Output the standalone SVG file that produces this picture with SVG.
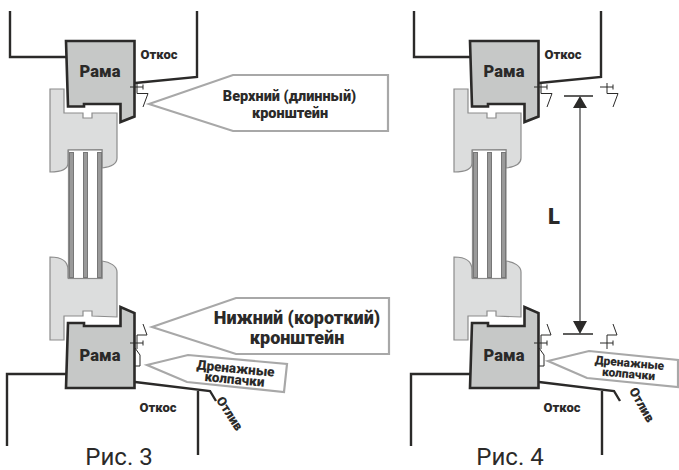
<svg xmlns="http://www.w3.org/2000/svg" xmlns:xlink="http://www.w3.org/1999/xlink" width="679" height="470" viewBox="0 0 679 470">
<style>
text{font-family:"Roboto","Liberation Sans",sans-serif;font-weight:900;fill:#2b2a29;text-anchor:middle}
.wall{fill:none;stroke:#2b2a29;stroke-width:2.400}
.frame{fill:#c6c8c7;stroke:#2b2a29;stroke-width:2.600;stroke-linejoin:miter}
.sash{fill:#dcdddd;stroke:#8c8c8c;stroke-width:1.200}
.glass{fill:#fff;stroke:#8c8c8c;stroke-width:1.200}
.bar{fill:#9a9a9a;stroke:#777;stroke-width:1}
.br{fill:none;stroke:#2b2a29;stroke-width:1}
.call{fill:#fff;stroke:#a8a8a8;stroke-width:2.200}
.rama{font-size:16.500px}
.otk{font-size:13px}
text.fig{font-weight:400;font-size:24px}
</style>
<defs>
<g id="br-top" class="br"><path d="M130 87H143M143 84.500V89.500M137 83V93.500H148L143 107"/></g>
<g id="br-bot" class="br"><path d="M130 343H143M143 340.500V345.500M137 349V335H147L143 324"/></g>
<g id="window">
<path class="wall" d="M10 11V57H66M197 11V77L135 83M7 446V374H66M135 382L210 391L216 401M198 391V455"/>
<path class="sash" d="M50 89H64V113H83V118H92V113H117V158C117 164 110 167 102 168V149.500L68 150V163C68 170 60 172 50 172Z"/>
<path class="sash" d="M50 257C60 257 68 260 68 270V278H102V261C110 262 117 266 117 272V317L92 316V311H83V316H64V340H50Z"/>
<rect class="glass" x="68.500" y="150" width="33.500" height="128.500"/>
<rect class="bar" x="69.500" y="152.500" width="4" height="125"/>
<rect class="bar" x="83.500" y="152.500" width="4" height="125"/>
<rect class="bar" x="97.500" y="152.500" width="4" height="125"/>
<path class="frame" d="M66 41H134.500V116.500L120.500 122V104H84V106.500H68Z"/>
<path class="frame" d="M68 323H84V326H120.500V307L134.500 313V388H66Z"/>
<path class="br" d="M135 348L140 355V366H134"/>
<use xlink:href="#br-top" href="#br-top"/>
<use xlink:href="#br-bot" href="#br-bot"/>
</g>
</defs>
<g id="figure-3">
<use href="#window" xlink:href="#window"/>
<polygon id="callout-upper" class="call" points="149,104 233,75 388,75 388,131 233,131"/>
<polygon id="callout-lower" class="call" points="152,327 236,298 389,298 389,354 236,354"/>
<polygon id="callout-caps" class="call" points="147,365 188,355 287,364 284,392 187,382"/>
<text class="rama" x="100" y="77">Рама</text>
<text class="rama" x="100" y="361">Рама</text>
<text class="otk" x="159" y="59">Откос</text>
<text class="otk" x="158" y="412">Откос</text>
<text font-size="14.500"><tspan x="289.500" y="101">Верхний (длинный)</tspan><tspan x="290" y="118">кронштейн</tspan></text>
<text font-size="18"><tspan x="297" y="324">Нижний (короткий)</tspan><tspan x="297" y="344">кронштейн</tspan></text>
<text transform="rotate(5.500 235 375)" font-size="13.500"><tspan x="235" y="373">Дренажные</tspan><tspan x="235" y="384">колпачки</tspan></text>
<text transform="translate(226 416) rotate(57)" font-size="13">Отлив</text>
<text class="fig" x="119" y="465">Рис. 3</text>
</g>
<g id="figure-4">
<use href="#window" xlink:href="#window" transform="translate(404 0)"/>
<use href="#br-top" xlink:href="#br-top" transform="translate(470 0)"/>
<use href="#br-bot" xlink:href="#br-bot" transform="translate(470 0)"/>
<polygon id="callout-caps-2" class="call" points="548,361 589,351 678,360 678,387 587,378"/>
<text class="rama" x="504" y="77">Рама</text>
<text class="rama" x="504" y="361">Рама</text>
<text class="otk" x="563" y="59">Откос</text>
<text class="otk" x="562" y="412">Откос</text>
<text transform="rotate(5 629 369)" font-size="12"><tspan x="629" y="367">Дренажные</tspan><tspan x="629" y="378">колпачки</tspan></text>
<text transform="translate(638 407) rotate(60)" font-size="13">Отлив</text>
<text class="fig" x="510" y="465">Рис. 4</text>
<text x="554" y="224" font-size="22">L</text>
</g>
<g id="dimension">
<path d="M580 106V323" fill="none" stroke="#4a4a4a" stroke-width="1.300"/>
<path d="M564 96H593M563 334H593" fill="none" stroke="#2b2a29" stroke-width="1.500"/>
<path d="M580 96L573 108H587ZM573 321H587L580 334Z" fill="#2b2a29"/>
</g>
</svg>
